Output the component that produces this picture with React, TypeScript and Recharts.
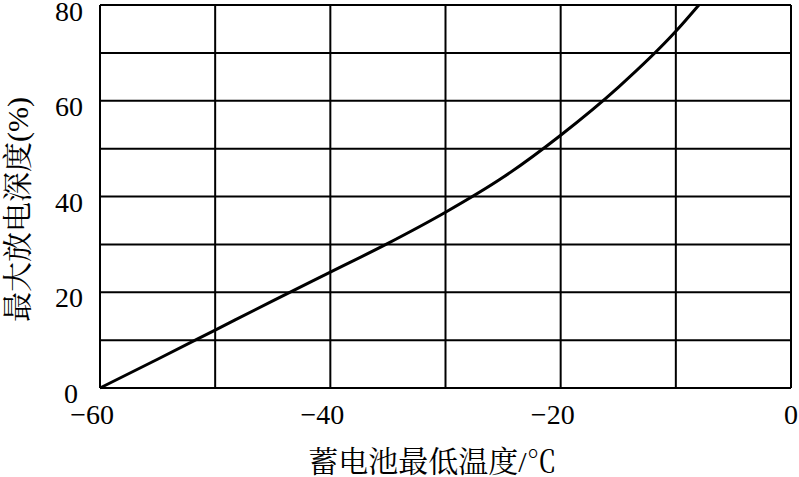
import React from 'react';
import { CartesianGrid, Label, Line, LineChart, XAxis, YAxis } from 'recharts';

// temperature (°C) and max discharge depth (%)
const temps = [-60, -55, -50, -45, -40, -35, -30, -25, -20, -15, -10, -8];
const depths = [0, 6, 12.1, 18.2, 24.2, 30.2, 36.7, 44.0, 52.8, 62.8, 74.5, 80];
const xTicks = [-60, -50, -40, -30, -20, -10, 0];
const yTicks = [0, 10, 20, 30, 40, 50, 60, 70, 80];
const xLabeled = [-60, -40, -20, 0];
const yLabeled = [0, 20, 40, 60, 80];

const data = temps.map((t, i) => ({ t, d: depths[i] }));

const SERIF = "'Liberation Serif', 'Times New Roman', serif";
const CJK = "'Liberation Serif', 'Noto Serif CJK SC', 'Noto Sans CJK SC', serif";

const XTick = (props: any) => {
  const { x, y, payload } = props;
  if (!xLabeled.includes(payload.value)) return null;
  const v = payload.value;
  const digits = String(Math.abs(v)).length;
  const txt = v < 0 ? '\u2212' + Math.abs(v) : String(v);
  return (
    <text x={x + digits * 7} y={y + 36} textAnchor="end" fontFamily={SERIF} fontSize={28} fill="#000">
      {txt}
    </text>
  );
};

const YTick = (props: any) => {
  const { y, payload } = props;
  if (!yLabeled.includes(payload.value)) return null;
  const right = payload.value === 0 ? 78 : 83;
  const dy = payload.value === 80 ? 16 : 15;
  return (
    <text x={right} y={y + dy} textAnchor="end" fontFamily={SERIF} fontSize={28} fill="#000">
      {payload.value}
    </text>
  );
};

const YLabel = (props: any) => {
  const { viewBox } = props;
  const cx = 28;
  const cy = viewBox.y + viewBox.height / 2 + 13;
  return (
    <text x={cx} y={cy} transform={`rotate(-90 ${cx} ${cy})`} textAnchor="middle" fontFamily={CJK} fontSize={30} fill="#000">
      最大放电深度(%)
    </text>
  );
};

export default function App() {
  return (
    <div style={{ width: 799, height: 477, background: '#fff' }}>
      <style>{'body{margin:0}'}</style>
      <LineChart width={799} height={477} data={data} margin={{ top: 5, right: 8, left: 0, bottom: 0 }}>
        <CartesianGrid stroke="#000" strokeWidth={2} />
        <XAxis
          dataKey="t"
          type="number"
          domain={[-60, 0]}
          ticks={xTicks}
          interval={0}
          height={89}
          tickSize={0}
          tickMargin={0}
          tickLine={false}
          axisLine={{ stroke: '#000', strokeWidth: 2 }}
          tick={<XTick />}
        >
          <Label
            value="蓄电池最低温度/℃"
            position="insideBottom"
            offset={5}
            dx={-13}
            style={{ fontFamily: CJK, fontSize: 30, fill: '#000' }}
          />
        </XAxis>
        <YAxis
          type="number"
          domain={[0, 80]}
          ticks={yTicks}
          interval={0}
          width={100}
          tickSize={0}
          tickMargin={0}
          tickLine={false}
          axisLine={{ stroke: '#000', strokeWidth: 2 }}
          tick={<YTick />}
        >
          <Label content={<YLabel />} />
        </YAxis>
        <Line
          type="monotone"
          dataKey="d"
          stroke="#000"
          strokeWidth={3}
          dot={false}
          isAnimationActive={false}
        />
      </LineChart>
    </div>
  );
}
